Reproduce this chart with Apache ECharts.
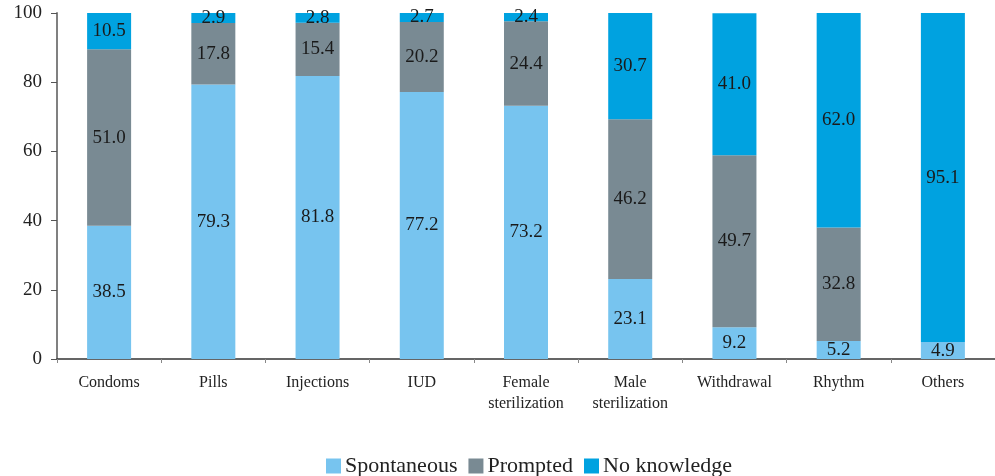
<!DOCTYPE html>
<html>
<head>
<meta charset="utf-8">
<script src="https://cdn.jsdelivr.net/npm/echarts@6/dist/echarts.min.js"></script>
<style>
  html, body { margin: 0; padding: 0; background: #fff; }
  #chart { width: 995px; height: 476px; }
</style>
</head>
<body>
<div id="chart"></div>
<script>
// categories and shares (%)
const categories = ['Condoms', 'Pills', 'Injections', 'IUD', 'Female\nsterilization',
  'Male\nsterilization', 'Withdrawal', 'Rhythm', 'Others'];
const spontaneous = [38.5, 79.3, 81.8, 77.2, 73.2, 23.1, 9.2, 5.2, 4.9];
const prompted = [51.0, 17.8, 15.4, 20.2, 24.4, 46.2, 49.7, 32.8, 0];
const noKnowledge = [10.5, 2.9, 2.8, 2.7, 2.4, 30.7, 41.0, 62.0, 95.1];
const yTicks = [0, 20, 40, 60, 80, 100];

const FONT = '"Liberation Serif", "DejaVu Serif", serif';

const barLabel = {
  show: true,
  position: 'inside',
  color: '#1a1a1a',
  fontFamily: FONT,
  fontSize: 19,
  formatter: p => (p.value ? p.value.toFixed(1) : '')
};

function makeSeries(name, data, color) {
  return {
    name: name,
    type: 'bar',
    stack: 'all',
    barWidth: 44,
    data: data,
    itemStyle: { color: color },
    label: barLabel
  };
}

const chart = echarts.init(document.getElementById('chart'));
chart.setOption({
  animation: false,
  grid: { left: 57, right: -7, top: 13, height: 346 },
  legend: {
    left: 321,
    top: 450,
    itemWidth: 15,
    itemHeight: 15,
    itemGap: 11,
    icon: 'rect',
    textStyle: { fontFamily: FONT, fontSize: 22, color: '#222', padding: [0, 0, 0, -1] },
    data: ['Spontaneous', 'Prompted', 'No knowledge']
  },
  xAxis: {
    type: 'category',
    data: categories,
    axisLine: { lineStyle: { color: '#333', width: 1.5 } },
    axisTick: { show: true, length: 4, lineStyle: { color: '#888' } },
    axisLabel: {
      interval: 0,
      margin: 13,
      fontFamily: FONT,
      fontSize: 16,
      color: '#222',
      lineHeight: 21
    }
  },
  yAxis: {
    type: 'value',
    min: 0,
    max: 100,
    interval: 20,
    axisLine: { show: true, lineStyle: { color: '#808080', width: 2 } },
    axisTick: { show: true, length: 6, lineStyle: { color: '#555' } },
    splitLine: { show: false },
    axisLabel: {
      margin: 15,
      fontFamily: FONT,
      fontSize: 19,
      color: '#222',
      formatter: v => (yTicks.indexOf(v) >= 0 ? String(v) : '')
    }
  },
  series: [
    makeSeries('Spontaneous', spontaneous, '#77C4EF'),
    makeSeries('Prompted', prompted, '#798A93'),
    makeSeries('No knowledge', noKnowledge, '#00A2E0')
  ]
});
</script>
</body>
</html>
